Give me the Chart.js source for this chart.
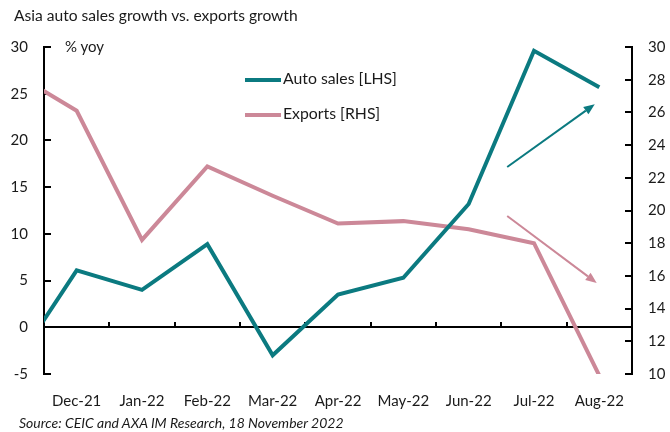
<!DOCTYPE html>
<html>
<head>
<meta charset="utf-8">
<script src="https://cdn.jsdelivr.net/npm/chart.js@4/dist/chart.umd.min.js"></script>
<style>
  body { margin: 0; background: #fff; }
  #wrap { position: relative; width: 670px; height: 432px; font-family: Lato, "Open Sans", sans-serif; color: #1a1a1a; }
  #wrap canvas { position: absolute; left: 0; top: 0; }
  .txt { position: absolute; white-space: nowrap; }
  .title { left: 14px; top: 6px; font-size: 15.6px; }
  .unit { left: 65px; top: 37px; font-size: 15px; }
  .source { left: 19px; top: 414px; font-size: 14px; font-style: italic; }
  .leg { left: 245px; font-size: 15.8px; }
  .leg i { display: inline-block; width: 36px; height: 4px; vertical-align: middle; margin-right: 2px; }
</style>
</head>
<body>
<div id="wrap">
  <canvas id="chart" width="670" height="432"></canvas>
  <div class="txt title">Asia auto sales growth vs. exports growth</div>
  <div class="txt unit">% yoy</div>
  <div class="txt leg" style="top:68px"><i style="background:#0b7a80"></i>Auto sales [LHS]</div>
  <div class="txt leg" style="top:103px"><i style="background:#cc8898"></i>Exports [RHS]</div>
  <div class="txt source">Source: CEIC and AXA IM Research, 18 November 2022</div>
</div>
<script>
const months = ['Nov-21', 'Dec-21', 'Jan-22', 'Feb-22', 'Mar-22', 'Apr-22', 'May-22', 'Jun-22', 'Jul-22', 'Aug-22']
const autoSales = [-4.5, 6.1, 4.0, 8.9, -3.0, 3.5, 5.3, 13.2, 29.6, 25.7]
const exportsGrowth = [28.5, 26.1, 18.2, 22.7, 20.9, 19.2, 19.35, 18.85, 18.0, 9.9]

// arrows in data units: [month index, RHS value]
const tealArrow = [[7.59, 22.66], [8.93, 26.5]]
const pinkArrow = [[7.59, 19.66], [8.96, 15.57]]

const teal = '#0b7a80'
const pink = '#cc8898'
const font = { family: 'Lato, "Open Sans", sans-serif', size: 15 }

const arrowPlugin = {
  id: 'arrows',
  afterDatasetsDraw(chart) {
    const { ctx, scales: { x, y1 } } = chart
    const draw = (pts, color) => {
      const x0 = x.getPixelForValue(pts[0][0]), y0 = y1.getPixelForValue(pts[0][1])
      const x1 = x.getPixelForValue(pts[1][0]), y1p = y1.getPixelForValue(pts[1][1])
      const ang = Math.atan2(y1p - y0, x1 - x0)
      const len = 11, half = 4.5
      const bx = x1 - len * Math.cos(ang), by = y1p - len * Math.sin(ang)
      ctx.save()
      ctx.strokeStyle = color
      ctx.fillStyle = color
      ctx.lineWidth = 2
      ctx.beginPath()
      ctx.moveTo(x0, y0)
      ctx.lineTo(bx, by)
      ctx.stroke()
      ctx.beginPath()
      ctx.moveTo(x1, y1p)
      ctx.lineTo(bx + half * Math.sin(ang), by - half * Math.cos(ang))
      ctx.lineTo(bx - half * Math.sin(ang), by + half * Math.cos(ang))
      ctx.closePath()
      ctx.fill()
      ctx.restore()
    }
    draw(tealArrow, teal)
    draw(pinkArrow, pink)
  }
}

new Chart(document.getElementById('chart'), {
  type: 'line',
  data: {
    labels: months,
    datasets: [
      {
        label: 'Auto sales [LHS]',
        data: autoSales,
        yAxisID: 'y',
        borderColor: teal,
        borderWidth: 4,
        pointRadius: 0,
        tension: 0
      },
      {
        label: 'Exports [RHS]',
        data: exportsGrowth,
        yAxisID: 'y1',
        borderColor: pink,
        borderWidth: 4,
        pointRadius: 0,
        tension: 0
      }
    ]
  },
  options: {
    responsive: false,
    animation: false,
    devicePixelRatio: 1,
    layout: { padding: { top: 47, bottom: 14, left: 0, right: 0 } },
    plugins: { legend: { display: false }, tooltip: { enabled: false } },
    scales: {
      x: {
        type: 'category',
        min: 'Dec-21',
        offset: true,
        grid: { display: false, drawTicks: false },
        border: { display: false },
        ticks: { font, color: '#1a1a1a', padding: 18, maxRotation: 0, autoSkip: false },
        afterFit: s => { s.height = 44 }
      },
      x0: {
        type: 'category',
        position: { y: 0 },
        min: 'Dec-21',
        offset: true,
        grid: { offset: true, drawOnChartArea: false, drawTicks: true, tickLength: -6, lineWidth: 2, color: '#000' },
        border: { display: true, color: '#000', width: 2 },
        ticks: { display: false }
      },
      y: {
        position: 'left',
        min: -5,
        max: 30,
        ticks: { stepSize: 5, font, color: '#1a1a1a', padding: 23 },
        grid: { drawOnChartArea: false, tickLength: -7, lineWidth: 2, color: '#000' },
        border: { color: '#000', width: 2 },
        afterFit: s => { s.width = 44 }
      },
      y1: {
        position: 'right',
        min: 10,
        max: 30,
        ticks: { stepSize: 2, font, color: '#1a1a1a', padding: 23 },
        grid: { drawOnChartArea: false, tickLength: -7, lineWidth: 2, color: '#000' },
        border: { color: '#000', width: 2 },
        afterFit: s => { s.width = 38 }
      }
    }
  },
  plugins: [arrowPlugin]
})
</script>
</body>
</html>
